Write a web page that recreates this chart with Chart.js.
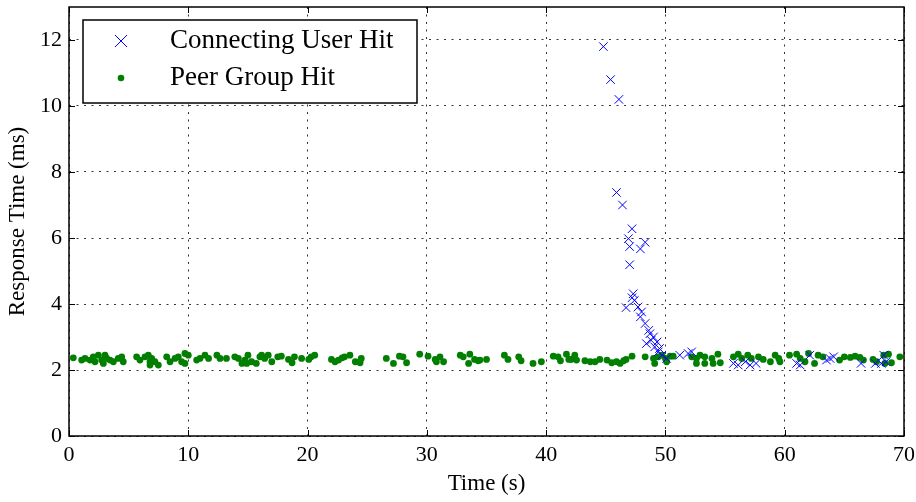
<!DOCTYPE html>
<html>
<head>
<meta charset="utf-8">
<script src="https://cdn.jsdelivr.net/npm/chart.js@4.4.1/dist/chart.umd.min.js"></script>
<style>
  html, body { margin: 0; padding: 0; background: #fff; }
  #wrap { width: 916px; height: 502px; }
</style>
</head>
<body>
<div id="wrap"><canvas id="chart"></canvas></div>
<script>
const SERIF = '"Liberation Serif", "DejaVu Serif", serif';

// Connecting User Hit (blue x)
const userTime = [44.8, 45.4, 46.1, 45.9, 46.4, 47.2, 46.9, 47.0, 47.9, 48.3, 47.0, 47.3, 47.2, 47.4, 46.7,
  47.7, 48.0, 47.9, 48.3, 48.6, 48.7, 49.0, 48.8, 48.4, 49.3, 49.1, 49.5, 49.4, 49.7, 50.1, 51.2, 51.9,
  52.2, 55.7, 56.1, 56.7, 57.1, 57.6, 61.0, 61.3, 62.1, 63.5, 63.8, 64.1, 66.4, 67.6, 68.3, 68.5, 68.1];
const userResp = [11.8, 10.8, 10.2, 7.38, 7.0, 6.28, 5.98, 5.74, 5.67, 5.87, 5.19, 4.31, 4.19, 4.11, 3.89,
  3.91, 3.76, 3.61, 3.41, 3.2, 3.1, 3.0, 2.9, 2.8, 2.85, 2.7, 2.65, 2.55, 2.45, 2.35, 2.45, 2.5,
  2.55, 2.2, 2.15, 2.25, 2.15, 2.2, 2.2, 2.15, 2.45, 2.3, 2.35, 2.4, 2.2, 2.2, 2.45, 2.25, 2.2];

// Peer Group Hit (green dots)
const peerTime = [0.36, 1.06, 1.34, 1.76, 2.04, 2.18, 2.46, 2.74, 3.02, 3.16, 2.88, 3.44, 3.72, 4.13, 4.42,
  4.55, 5.67, 5.95, 6.37, 6.65, 6.79, 6.93, 7.2, 6.79, 7.49, 8.19, 8.47, 8.89, 9.16, 9.44, 9.72, 10.0,
  9.72, 10.7, 10.98, 11.4, 11.7, 12.4, 12.66, 13.2, 13.9, 14.2, 14.5, 14.75, 15.0, 14.9, 15.3, 15.7,
  16.0, 16.15, 16.4, 16.7, 17.0, 17.5, 17.8, 18.4, 18.7, 18.9, 19.5, 20.1, 20.3, 20.6, 22.0, 22.3,
  22.6, 22.9, 23.1, 23.55, 24.0, 24.4, 24.5, 26.6, 27.2, 27.7, 28.0, 28.3, 29.4, 30.1, 30.7, 30.8,
  31.1, 31.4, 32.8, 33.05, 33.6, 33.5, 34.0, 34.3, 35.0, 34.45, 36.5, 36.8, 37.7, 37.9, 38.9, 39.6,
  40.6, 41.0, 41.2, 41.7, 41.9, 42.4, 42.55, 42.1, 43.25, 43.7, 44.1, 44.5, 45.1, 45.5, 45.9, 46.2,
  46.5, 46.7, 47.2, 48.3, 49.0, 49.1, 49.4, 49.7, 50.0, 50.4, 50.65, 50.1, 52.2, 52.6, 52.6, 52.9,
  53.3, 53.3, 53.9, 54.0, 54.4, 54.6, 55.7, 56.1, 56.4, 56.9, 57.2, 57.8, 58.2, 58.8, 59.2, 59.5,
  59.6, 60.4, 61.0, 61.3, 61.7, 62.0, 62.5, 62.8, 63.2, 64.6, 65.0, 65.5, 65.9, 66.3, 66.6, 67.4,
  67.7, 68.3, 68.7, 68.95, 68.4, 69.65];
const peerResp = [2.37, 2.3, 2.35, 2.3, 2.4, 2.25, 2.45, 2.3, 2.45, 2.35, 2.2, 2.3, 2.25, 2.35, 2.4,
  2.25, 2.4, 2.3, 2.4, 2.45, 2.25, 2.35, 2.25, 2.15, 2.15, 2.4, 2.25, 2.35, 2.4, 2.25, 2.5, 2.45,
  2.2, 2.3, 2.35, 2.45, 2.35, 2.45, 2.35, 2.35, 2.4, 2.35, 2.2, 2.3, 2.45, 2.2, 2.25, 2.2,
  2.4, 2.45, 2.35, 2.45, 2.25, 2.4, 2.42, 2.32, 2.22, 2.4, 2.35, 2.32, 2.4, 2.45, 2.32, 2.25,
  2.3, 2.37, 2.4, 2.45, 2.25, 2.22, 2.35, 2.35, 2.2, 2.42, 2.4, 2.22, 2.48, 2.42, 2.32, 2.25,
  2.4, 2.25, 2.45, 2.4, 2.48, 2.2, 2.32, 2.28, 2.32, 2.3, 2.45, 2.32, 2.4, 2.28, 2.2, 2.25,
  2.42, 2.4, 2.28, 2.48, 2.32, 2.45, 2.3, 2.32, 2.28, 2.25, 2.25, 2.32, 2.3, 2.22, 2.25, 2.2,
  2.28, 2.32, 2.42, 2.4, 2.35, 2.2, 2.4, 2.45, 2.35, 2.42, 2.42, 2.25, 2.4, 2.2, 2.35, 2.45,
  2.4, 2.2, 2.35, 2.2, 2.48, 2.22, 2.4, 2.48, 2.35, 2.45, 2.35, 2.4, 2.32, 2.25, 2.45, 2.35,
  2.25, 2.45, 2.48, 2.35, 2.25, 2.5, 2.2, 2.45, 2.4, 2.3, 2.4, 2.38, 2.42, 2.38, 2.3, 2.32,
  2.25, 2.45, 2.48, 2.22, 2.2, 2.4];

const xTicks = [0, 10, 20, 30, 40, 50, 60, 70];
const yTicks = [0, 2, 4, 6, 8, 10, 12];

const toPoints = (xs, ys) => xs.map((x, i) => ({ x: x, y: ys[i] }));

// frame, inward ticks and the boxed legend, matplotlib style
const framePlugin = {
  id: 'frame',
  afterDraw: (chart) => {
    const { ctx, chartArea: a, scales } = chart;
    ctx.save();
    ctx.strokeStyle = '#000';
    ctx.lineWidth = 1;
    const tl = 6;
    ctx.beginPath();
    xTicks.forEach(v => {
      const px = Math.round(scales.x.getPixelForValue(v)) + 0.5;
      ctx.moveTo(px, a.bottom); ctx.lineTo(px, a.bottom - tl);
      ctx.moveTo(px, a.top); ctx.lineTo(px, a.top + tl);
    });
    yTicks.forEach(v => {
      const py = Math.round(scales.y.getPixelForValue(v)) + 0.5;
      ctx.moveTo(a.left, py); ctx.lineTo(a.left + tl, py);
      ctx.moveTo(a.right, py); ctx.lineTo(a.right - tl, py);
    });
    ctx.stroke();
    ctx.lineWidth = 1.5;
    ctx.strokeRect(a.left, a.top, a.right - a.left, a.bottom - a.top);

    // legend
    const lx = 83, ly = 20, lw = 334, lh = 83;
    ctx.fillStyle = '#fff';
    ctx.fillRect(lx, ly, lw, lh);
    ctx.lineWidth = 1.5;
    ctx.strokeStyle = '#000';
    ctx.strokeRect(lx, ly, lw, lh);
    const ds = chart.data.datasets;
    const rows = [41, 78];
    ds.forEach((d, i) => {
      const mx = 121, my = rows[i];
      if (d.pointStyle === 'crossRot') {
        ctx.strokeStyle = d.borderColor;
        ctx.lineWidth = 1;
        ctx.beginPath();
        ctx.moveTo(mx - 6, my - 6); ctx.lineTo(mx + 6, my + 6);
        ctx.moveTo(mx + 6, my - 6); ctx.lineTo(mx - 6, my + 6);
        ctx.stroke();
      } else {
        ctx.fillStyle = d.backgroundColor;
        ctx.beginPath();
        ctx.arc(mx, my, 3.3, 0, Math.PI * 2);
        ctx.fill();
      }
      ctx.fillStyle = '#000';
      ctx.font = '27px ' + SERIF;
      ctx.textBaseline = 'middle';
      ctx.textAlign = 'left';
      ctx.fillText(d.label, 170, my);
    });
    ctx.restore();
  }
};

new Chart(document.getElementById('chart'), {
  type: 'scatter',
  data: {
    datasets: [
      {
        label: 'Connecting User Hit',
        data: toPoints(userTime, userResp),
        pointStyle: 'crossRot',
        borderColor: '#0000ff',
        backgroundColor: '#0000ff',
        borderWidth: 1,
        pointRadius: 6,
        order: 1,
      },
      {
        label: 'Peer Group Hit',
        data: toPoints(peerTime, peerResp),
        pointStyle: 'circle',
        borderColor: '#007f00',
        backgroundColor: '#007f00',
        borderWidth: 0,
        pointRadius: 3.4,
        order: 2,
      }
    ]
  },
  options: {
    responsive: true,
    maintainAspectRatio: false,
    animation: false,
    layout: { padding: { top: 6, right: 12, left: 0, bottom: 0 } },
    plugins: {
      legend: { display: false },
      tooltip: { enabled: false },
    },
    scales: {
      x: {
        type: 'linear',
        min: 0,
        max: 70,
        afterBuildTicks: (s) => { s.ticks = xTicks.map(v => ({ value: v })); },
        afterFit: (s) => { s.height = 66; s.paddingLeft = 0; s.paddingRight = 0; },
        border: { display: false, dash: [2, 5.5] },
        grid: {
          color: 'rgba(0,0,0,0.8)',
          lineWidth: 1,
          drawTicks: false,
        },
        ticks: {
          color: '#000',
          padding: 6,
          maxRotation: 0,
          font: { family: SERIF, size: 22 },
        },
        title: {
          display: true,
          text: 'Time (s)',
          color: '#000',
          padding: { top: 0, bottom: 4 },
          font: { family: SERIF, size: 23 },
        }
      },
      y: {
        type: 'linear',
        min: 0,
        max: 13,
        afterBuildTicks: (s) => { s.ticks = yTicks.map(v => ({ value: v })); },
        afterFit: (s) => { s.width = 69; s.paddingTop = 0; s.paddingBottom = 0; },
        border: { display: false, dash: [2, 5.5] },
        grid: {
          color: 'rgba(0,0,0,0.8)',
          lineWidth: 1,
          drawTicks: false,
        },
        ticks: {
          color: '#000',
          padding: 7,
          font: { family: SERIF, size: 22 },
        },
        title: {
          display: true,
          text: 'Response Time (ms)',
          color: '#000',
          padding: { top: 4, bottom: 0 },
          font: { family: SERIF, size: 23 },
        }
      }
    }
  },
  plugins: [framePlugin]
});
</script>
</body>
</html>
